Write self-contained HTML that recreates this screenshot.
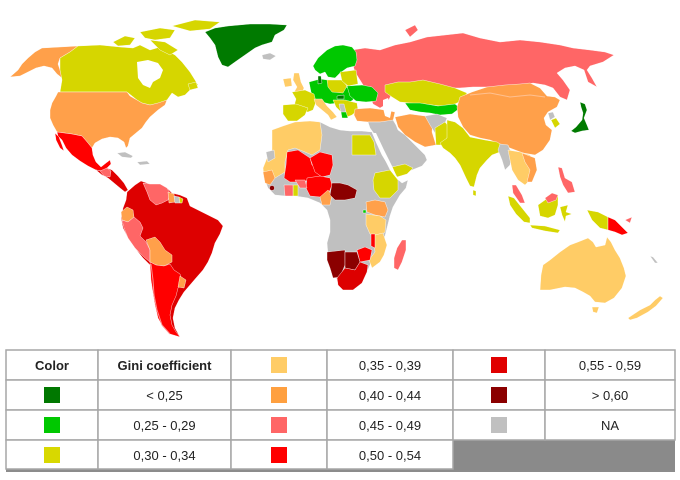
<!DOCTYPE html>
<html><head><meta charset="utf-8"><style>
html,body{margin:0;padding:0;background:#fff;}
svg{display:block;}
text{font-family:"Liberation Sans",Arial,sans-serif;font-size:13px;fill:#222;}
</style></head><body>
<svg width="680" height="480" viewBox="0 0 680 480" xmlns="http://www.w3.org/2000/svg">
<rect width="680" height="480" fill="#fff"/>
<g stroke="#fff" stroke-width="0.4" stroke-linejoin="round">
<!-- North America -->
<polygon fill="#ffa04a" points="10,77 18,70 22,64 28,58 35,52 42,48 60,47 78,46 70,52 60,58 58,64 60,70 62,78 57,74 52,68 44,66 36,68 28,72 20,76"/>
<polygon fill="#d6d600" points="60,58 70,52 78,46 100,45 120,47 133,48 140,45 150,50 160,47 175,55 182,62 190,72 195,80 198,85 190,90 185,95 178,97 172,93 167,100 160,103 150,105 142,103 137,100 132,96 127,92 60,92 62,80 60,70"/>
<polygon fill="#fff" stroke="none" points="137,62 148,60 158,63 163,70 160,78 153,82 150,88 143,85 138,78"/>
<polygon fill="#d6d600" points="113,42 125,36 135,38 130,45 118,46"/>
<polygon fill="#d6d600" points="140,32 160,28 175,30 170,38 155,40 145,38"/>
<polygon fill="#d6d600" points="172,26 195,20 220,22 210,29 190,31"/>
<polygon fill="#d6d600" points="150,40 165,42 178,50 170,55 160,50"/>
<polygon fill="#d6d600" points="188,84 196,82 198,88 190,90"/>
<polygon fill="#007a00" points="205,32 215,28 228,26 250,24 270,24 287,25 284,30 275,35 272,42 262,45 255,48 245,55 235,62 228,67 222,65 218,57 215,45 210,38"/>
<polygon fill="#ffa04a" points="58,92 127,92 130,96 137,100 142,103 150,105 158,103 167,100 165,105 158,110 150,117 146,122 142,128 136,133 130,138 128,146 126,148 124,142 118,138 110,137 102,139 95,143 92,148 88,143 82,136 72,134 57,132 53,125 50,118 50,110 52,103 56,96"/>
<polygon fill="#ff0000" points="57,132 72,134 82,136 88,143 92,148 93,155 96,162 101,167 106,163 110,160 111,164 107,168 102,171 96,170 88,166 80,161 72,155 66,148 62,140 58,136"/>
<polygon fill="#ff0000" points="55,133 59,137 62,145 64,151 60,148 56,140"/>
<polygon fill="#e00000" points="96,170 102,171 107,168 112,170 118,176 124,183 128,190 125,192 120,188 114,183 108,178 102,175"/>
<polygon fill="#ff6666" points="100,171 107,168 111,171 110,177 104,176"/>
<polygon fill="#c0c0c0" points="117,153 125,152 133,156 131,158 122,157"/>
<polygon fill="#c0c0c0" points="137,162 147,161 150,164 140,165"/>
<!-- South America -->
<polygon fill="#dd0000" points="127,192 135,185 141,181 150,184 160,184 167,188 172,193 180,195 187,198 190,206 198,210 208,215 218,220 223,226 220,234 215,243 212,253 208,262 203,270 196,278 190,285 184,292 179,300 175,308 173,318 175,328 180,337 170,334 163,327 158,318 155,305 153,293 151,280 150,265 143,258 135,248 128,238 123,228 121,218 123,208 126,200"/>
<polygon fill="#ff6666" points="143,183 150,184 160,184 167,188 170,193 168,200 162,203 156,205 150,200 147,192"/>
<polygon fill="#ffa04a" points="168,192 174,194 175,202 169,203"/>
<polygon fill="#c0c0c0" points="174,196 179,197 180,203 175,203"/>
<polygon fill="#d6d600" points="179,197 183,199 182,203 180,203"/>
<polygon fill="#ffa04a" points="121,212 127,207 133,210 134,217 128,222 122,220"/>
<polygon fill="#ff6666" points="122,220 128,222 134,217 140,222 143,228 140,236 146,242 150,250 150,262 145,258 135,248 128,238 124,228"/>
<polygon fill="#ffa04a" points="146,240 155,237 160,242 165,250 172,255 172,262 164,266 156,265 150,262 150,250"/>
<polygon fill="#ff0000" points="150,262 156,265 164,266 170,264 174,270 180,274 182,281 178,288 176,296 172,305 170,315 172,325 176,332 180,337 170,334 163,327 158,318 155,305 153,293 151,280"/>
<polygon fill="#ffa04a" points="180,276 186,280 184,288 178,287"/>
<polyline fill="none" stroke="#ff9090" stroke-width="1" points="151,264 153,280 154,295 157,310 162,325 170,334"/>
<!-- Iceland, Europe -->
<polygon fill="#c0c0c0" points="262,55 270,53 276,56 270,60 263,59"/>
<polygon fill="#ff6666" points="352,50 365,48 380,50 395,45 410,42 427,37 445,35 463,33 480,38 500,42 520,40 540,42 560,45 573,48 590,50 605,52 614,55 603,62 590,66 587,70 592,78 597,87 588,82 584,70 575,66 565,68 557,73 563,80 570,90 567,100 560,97 553,88 545,85 533,83 520,86 507,88 490,87 473,87 460,88 450,88 437,85 423,83 410,85 400,87 392,93 387,104 380,108 373,104 370,96 365,88 360,80 355,72 352,62"/>
<polygon fill="#ff6666" points="405,30 415,25 418,30 410,37"/>
<polygon fill="#ffcc66" points="294,73 299,73 301,82 304,88 302,93 293,94 297,87 293,80"/>
<polygon fill="#ffcc66" points="283,79 291,78 292,86 285,87"/>
<polygon fill="#00c800" points="313,66 318,58 327,50 335,46 343,45 352,47 356,52 357,60 355,66 347,68 340,73 335,78 328,77 325,72 320,74 315,70"/>
<polygon fill="#00c800" points="309,82 320,79 328,80 340,84 348,88 355,92 353,100 346,104 338,103 330,104 322,102 314,99 311,92"/>
<polygon fill="#007a00" points="318,76 321,76 322,83 318,84"/>
<polygon fill="#d6d600" points="327,80 342,80 347,86 343,93 332,92 328,87"/>
<polygon fill="#d6d600" points="340,72 356,70 358,84 348,86 342,81"/>
<polygon fill="#00c800" points="347,86 362,85 372,87 378,93 376,101 366,102 356,101 350,96"/>
<polygon fill="#007a00" points="337,96 344,95 344,99 337,99"/>
<polygon fill="#d6d600" points="292,92 305,90 314,94 316,102 313,110 308,112 299,111 294,106 296,99"/>
<polygon fill="#d6d600" points="283,105 296,104 308,108 305,115 297,121 288,121 283,114"/>
<polygon fill="#ffcc66" points="314,99 322,99 327,106 333,112 337,117 331,120 328,115 322,110 316,105"/>
<polygon fill="#d6d600" points="333,100 345,100 357,103 358,110 352,115 347,117 341,112 336,107"/>
<polygon fill="#c0c0c0" points="339,104 344,104 346,112 341,113"/>
<polygon fill="#00c800" points="341,112 346,112 348,118 342,118"/>
<polygon fill="#ffa04a" points="355,109 370,108 385,110 395,112 393,121 380,122 368,122 357,121 354,115"/>
<!-- Central Asia -->
<polygon fill="#d6d600" points="385,85 398,82 410,82 423,80 440,84 455,88 467,93 463,100 455,104 440,106 425,104 410,103 400,102 392,97 385,92"/>
<polygon fill="#fff" stroke="none" points="383,100 388,98 392,108 390,118 385,116 383,108"/>
<polygon fill="#00c800" points="405,103 420,103 438,106 455,104 460,108 452,114 440,115 430,113 420,112 410,110"/>
<polygon fill="#ffa04a" points="395,117 410,114 425,116 433,120 432,132 436,145 425,147 415,142 405,135 398,127"/>
<polygon fill="#c0c0c0" points="425,116 437,114 447,118 443,128 435,133 430,125"/>
<polygon fill="#d6d600" points="435,128 445,122 450,128 447,138 442,145 436,145"/>
<polygon fill="#ffa04a" points="460,97 472,92 487,87 505,85 520,84 530,83 540,88 547,96 555,97 560,100 557,107 548,112 544,118 546,125 552,130 550,140 543,150 535,155 523,153 510,148 500,144 490,140 480,138 470,135 463,127 458,117 457,107"/>
<polyline fill="none" stroke="#ffc090" stroke-width="1" points="470,95 490,93 510,97 530,95 545,97"/>
<polygon fill="#d6d600" points="447,120 455,122 463,128 470,137 485,140 497,142 503,146 500,152 492,155 487,160 480,168 477,175 474,187 470,186 466,178 460,165 455,158 450,153 443,148 440,143 447,138"/>
<polygon fill="#d6d600" points="473,190 476,191 476,196 473,195"/>
<polygon fill="#c0c0c0" points="548,113 553,112 555,117 550,120"/>
<polygon fill="#d6d600" points="551,120 556,118 560,124 555,128"/>
<polygon fill="#007a00" points="580,102 585,104 587,110 584,118 587,125 589,130 582,131 575,133 571,131 576,127 582,120 583,113 581,107"/>
<!-- Middle East -->
<polygon fill="#c0c0c0" points="368,122 380,122 393,120 396,125 398,130 405,135 410,140 418,148 425,155 427,160 422,166 412,170 400,176 395,176 390,165 384,155 380,145 375,135 370,128"/>
<polygon fill="#d6d600" points="392,167 405,164 413,168 407,174 397,177"/>
<!-- Africa -->
<polygon fill="#c0c0c0" points="272,130 283,126 295,122 310,121 320,122 330,127 340,130 350,131 362,131 372,132 376,142 382,155 390,168 396,178 402,183 408,180 406,188 400,195 393,207 390,216 387,228 384,240 377,250 372,260 367,272 362,283 353,290 343,290 337,280 332,268 328,255 327,243 330,232 330,220 327,210 320,203 308,198 295,196 285,196 275,195 268,188 264,178 263,168 267,158 272,150"/>
<polygon fill="#fff" stroke="none" points="372,133 376,133 384,150 393,168 397,178 394,178 385,160 378,145"/>
<polygon fill="#ffcc66" points="272,130 283,126 295,122 310,121 320,122 322,135 320,150 312,155 305,152 295,148 288,150 285,162 285,172 275,178 268,182 264,178 263,168 267,158 272,150"/>
<polygon fill="#c0c0c0" points="266,152 274,150 275,158 268,162"/>
<polygon fill="#d6d600" points="352,135 370,135 374,142 376,155 352,155"/>
<polygon fill="#ff0000" points="287,152 298,150 310,158 312,165 320,168 322,175 312,180 300,182 290,182 284,178 286,165"/>
<polygon fill="#ff0000" points="310,158 320,152 332,155 333,165 330,175 322,177 315,172"/>
<polygon fill="#ff0000" points="307,178 320,176 330,178 332,185 328,195 320,197 310,196 306,188"/>
<polygon fill="#ff6666" points="295,180 305,180 307,188 300,188"/>
<polygon fill="#d6d600" points="293,185 298,185 298,196 293,196"/>
<polygon fill="#ff6666" points="284,185 293,185 293,196 285,196"/>
<polygon fill="#ffa04a" points="263,172 272,170 275,178 270,185 265,183"/>
<circle cx="272" cy="188" r="2.5" fill="#8b0000"/>
<polygon fill="#ffa04a" points="320,197 328,190 332,195 330,205 322,205"/>
<polygon fill="#8b0000" points="332,183 340,183 348,185 357,190 355,198 345,200 335,200 330,195"/>
<polygon fill="#d6d600" points="375,173 390,170 398,180 398,190 390,198 380,198 374,190 373,180"/>
<polygon fill="#ffa04a" points="366,202 375,200 385,202 388,210 385,217 375,215 367,212"/>
<polygon fill="#00c800" points="363,210 366,210 366,213 363,213"/>
<polygon fill="#ffcc66" points="366,214 380,216 386,220 385,232 380,236 370,234 366,225"/>
<polygon fill="#ffcc66" points="375,235 383,233 387,245 384,255 380,262 372,268 369,260 375,252 374,243"/>
<polygon fill="#ff0000" points="371,234 375,234 375,248 371,246"/>
<polygon fill="#ff0000" points="357,250 365,247 372,250 370,260 360,262"/>
<polygon fill="#8b0000" points="327,252 345,250 345,265 340,277 333,278 330,268 327,260"/>
<polygon fill="#8b0000" points="345,252 357,252 360,262 355,270 345,268"/>
<polygon fill="#dd0000" points="337,278 345,268 355,270 360,262 368,265 367,272 362,283 353,290 343,290 338,285"/>
<polygon fill="#ff6666" points="402,240 406,240 406,250 402,262 398,270 394,268 394,258 397,248"/>
<!-- SE Asia & Oceania -->
<polygon fill="#c0c0c0" points="500,144 508,145 512,155 510,165 505,170 502,160 498,150"/>
<polygon fill="#ffcc66" points="508,150 520,152 530,155 535,165 532,178 525,185 518,180 512,170 510,160"/>
<polygon fill="#ffa04a" points="522,153 535,158 537,170 532,182 527,182 530,170 525,162"/>
<polygon fill="#ff6666" points="512,185 516,185 522,195 525,203 520,203 513,193"/>
<polygon fill="#d6d600" points="508,196 514,198 522,208 530,218 530,223 524,222 516,214 510,205"/>
<polygon fill="#d6d600" points="538,205 545,200 552,193 558,195 558,205 555,215 548,218 540,216"/>
<polygon fill="#ff6666" points="545,198 552,193 558,195 556,200 548,203"/>
<polygon fill="#d6d600" points="530,225 545,226 560,230 558,233 545,231 532,228"/>
<polygon fill="#d6d600" points="560,207 568,205 566,212 572,214 566,216 565,222 562,215"/>
<polygon fill="#ff6666" points="558,167 562,168 565,178 572,182 575,192 568,193 563,185 560,177"/>
<polygon fill="#d6d600" points="587,210 598,212 608,217 608,230 600,228 592,220"/>
<polygon fill="#ff0000" points="608,217 615,220 620,225 628,233 622,235 615,232 608,230"/>
<polygon fill="#ff6666" points="625,220 632,217 630,223"/>
<polygon fill="#ffcc66" points="540,290 541,275 543,265 550,260 560,252 570,245 578,242 588,238 593,242 596,247 605,245 607,237 611,242 615,250 620,258 624,268 626,276 622,288 614,298 605,303 595,302 590,296 583,292 575,288 565,287 550,290"/>
<polygon fill="#ffcc66" points="592,307 599,307 597,313 593,312"/>
<polygon fill="#ffcc66" points="628,318 640,310 650,305 655,300 660,296 663,298 656,306 648,312 637,318 630,320"/>
<polygon fill="#c0c0c0" points="650,256 653,257 658,263 655,263"/>
</g>

<!-- Legend table -->
<rect x="6" y="469" width="669" height="3" fill="#8c8c8c"/>
<rect x="453" y="440" width="222" height="30" fill="#8a8a8a"/>
<g fill="#fff" stroke="#a6a6a6" stroke-width="1.5">
<rect x="6" y="350" width="92" height="30"/><rect x="98" y="350" width="133" height="30"/>
<rect x="6" y="380" width="92" height="30"/><rect x="98" y="380" width="133" height="30"/>
<rect x="6" y="410" width="92" height="30"/><rect x="98" y="410" width="133" height="30"/>
<rect x="6" y="440" width="92" height="29"/><rect x="98" y="440" width="133" height="29"/>
<rect x="231" y="350" width="96" height="30"/><rect x="327" y="350" width="126" height="30"/>
<rect x="231" y="380" width="96" height="30"/><rect x="327" y="380" width="126" height="30"/>
<rect x="231" y="410" width="96" height="30"/><rect x="327" y="410" width="126" height="30"/>
<rect x="231" y="440" width="96" height="29"/><rect x="327" y="440" width="126" height="29"/>
<rect x="453" y="350" width="92" height="30"/><rect x="545" y="350" width="130" height="30"/>
<rect x="453" y="380" width="92" height="30"/><rect x="545" y="380" width="130" height="30"/>
<rect x="453" y="410" width="92" height="30"/><rect x="545" y="410" width="130" height="30"/>
</g>
<!-- swatches -->
<rect x="44" y="387" width="16" height="16" fill="#007800"/>
<rect x="44" y="417" width="16" height="16" fill="#00c800"/>
<rect x="44" y="447" width="16" height="16" fill="#d8d800"/>
<rect x="271" y="357" width="16" height="16" fill="#ffcc66"/>
<rect x="271" y="387" width="16" height="16" fill="#ffa040"/>
<rect x="271" y="417" width="16" height="16" fill="#ff6666"/>
<rect x="271" y="447" width="16" height="16" fill="#ff0000"/>
<rect x="491" y="357" width="16" height="16" fill="#e00000"/>
<rect x="491" y="387" width="16" height="16" fill="#8b0000"/>
<rect x="491" y="417" width="16" height="16" fill="#c0c0c0"/>
<!-- texts -->
<g text-anchor="middle">
<text x="52" y="370" font-weight="bold">Color</text>
<text x="164.5" y="370" font-weight="bold">Gini coefficient</text>
<text x="164.5" y="400">&lt; 0,25</text>
<text x="164.5" y="430">0,25 - 0,29</text>
<text x="164.5" y="460">0,30 - 0,34</text>
<text x="390" y="370">0,35 - 0,39</text>
<text x="390" y="400">0,40 - 0,44</text>
<text x="390" y="430">0,45 - 0,49</text>
<text x="390" y="460">0,50 - 0,54</text>
<text x="610" y="370">0,55 - 0,59</text>
<text x="610" y="400">&gt; 0,60</text>
<text x="610" y="430">NA</text>
</g>
</svg>
</body></html>
